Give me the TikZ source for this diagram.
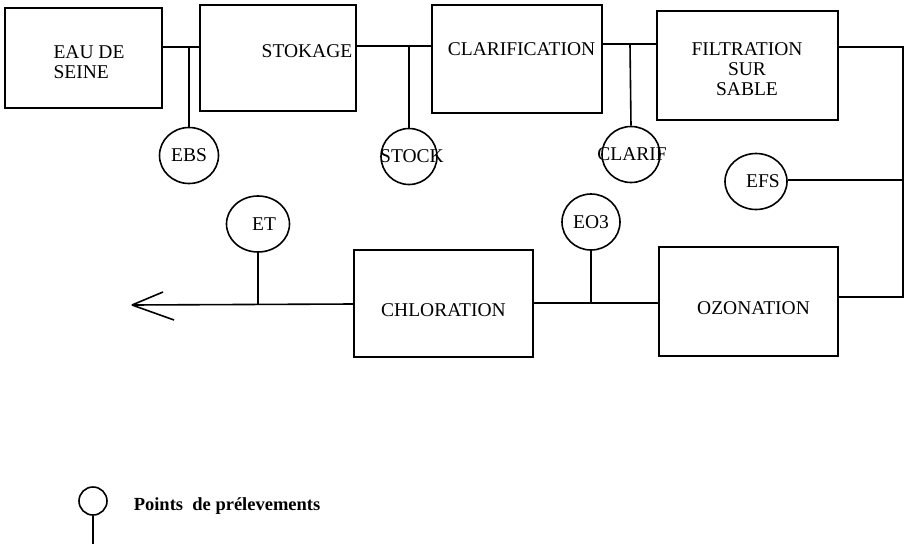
\documentclass[tikz,border=0pt]{standalone}
\usepackage{fontspec}
\setmainfont{Liberation Serif}
\usetikzlibrary{shapes.geometric}
\begin{document}
\begin{tikzpicture}[x=1pt,y=-1pt,
  line width=1.6pt,
  every node/.style={font=\fontsize{19.5}{20}\selectfont},
  stage/.style={draw,line width=1.6pt,inner sep=0},
  btext/.style={inner sep=0,align=center},
  tap/.style={draw,ellipse,line width=1.6pt,minimum width=59pt,minimum height=56pt,inner sep=0},
  every label/.style={inner sep=0,font=\fontsize{19.5}{20}\selectfont},
]
\useasboundingbox (0,0) rectangle (908,544);
% process boxes
\node[stage,minimum width=157pt,minimum height=100pt] (eau) at (83.5,58) {};
\node[btext,align=left] (eaut) at (89,62) {EAU DE\\SEINE};
\node[stage,minimum width=156pt,minimum height=106pt] (sto) at (278,58) {};
\node[btext] (stot) at (307,51.5) {STOKAGE};
\node[stage,minimum width=170pt,minimum height=108pt] (cla) at (517,59) {};
\node[btext] (clat) at (521.5,49.5) {CLARIFICATION};
\node[stage,minimum width=181pt,minimum height=109pt] (fil) at (747.5,65.5) {};
\node[btext] (filt) at (747,69) {FILTRATION\\SUR\\SABLE};
\node[stage,minimum width=179pt,minimum height=107pt] (chl) at (443.5,303.5) {};
\node[btext] (chlt) at (443.5,310) {CHLORATION};
\node[stage,minimum width=179pt,minimum height=109pt] (ozo) at (748.5,301.5) {};
\node[btext] (ozot) at (753.5,308) {OZONATION};
% sampling points
\node[tap,label={center:EBS}] (ebs) at (189,155.5) {};
\node[tap,minimum width=56pt,label={[xshift=3pt]center:STOCK}] (stock) at (409,156.5) {};
\node[tap,minimum width=58pt,label={[xshift=1pt]center:CLARIF}] (clarif) at (631,154.5) {};
\node[tap,minimum width=62pt,label={[xshift=7pt]center:EFS}] (efs) at (756,181.5) {};
\node[tap,minimum width=63pt,label={[xshift=6pt]center:ET}] (et) at (258,224) {};
\node[tap,minimum width=58pt,label={center:EO3}] (eo3) at (591,222) {};
% junction coordinates
\coordinate (j1) at (189,47);
\coordinate (j2) at (409,46);
\coordinate (j3) at (630,44);
\coordinate (c1) at (903,47);
\coordinate (c2) at (903,180);
\coordinate (c3) at (903,297);
\coordinate (j4) at (591,303);
\coordinate (j5) at (258,304);
\coordinate (tip) at (132,305);
% connectors
\draw (eau.east |- j1) -- (sto.west |- j1);
\draw (j1) -- (ebs.north);
\draw (sto.east |- j2) -- (cla.west |- j2);
\draw (j2) -- (stock.north);
\draw (cla.east |- j3) -- (fil.west |- j3);
\draw (j3) -- (clarif.north);
\draw (fil.east |- c1) -- (c1) -- (c3) -- (ozo.east |- c3);
\draw (efs.east |- c2) -- (c2);
\draw (ozo.west |- j4) -- (chl.east |- j4);
\draw (j4) -- (eo3.south);
\draw (chl.west |- j5) -- (tip);
\draw (j5) -- (et.south);
\draw (tip) -- ++(31,-13);
\draw (tip) -- ++(42,15);
% legend
\node[draw,circle,minimum size=28pt,inner sep=0,line width=1.6pt] (leg) at (93,501) {};
\coordinate (legend-end) at (93,544);
\draw (leg.south) -- (legend-end);
\node[anchor=west,inner sep=0,font=\fontsize{18.5}{20}\selectfont\bfseries] (legt) at (133,506) {Points\ \ de prélevements};
\end{tikzpicture}
\end{document}
